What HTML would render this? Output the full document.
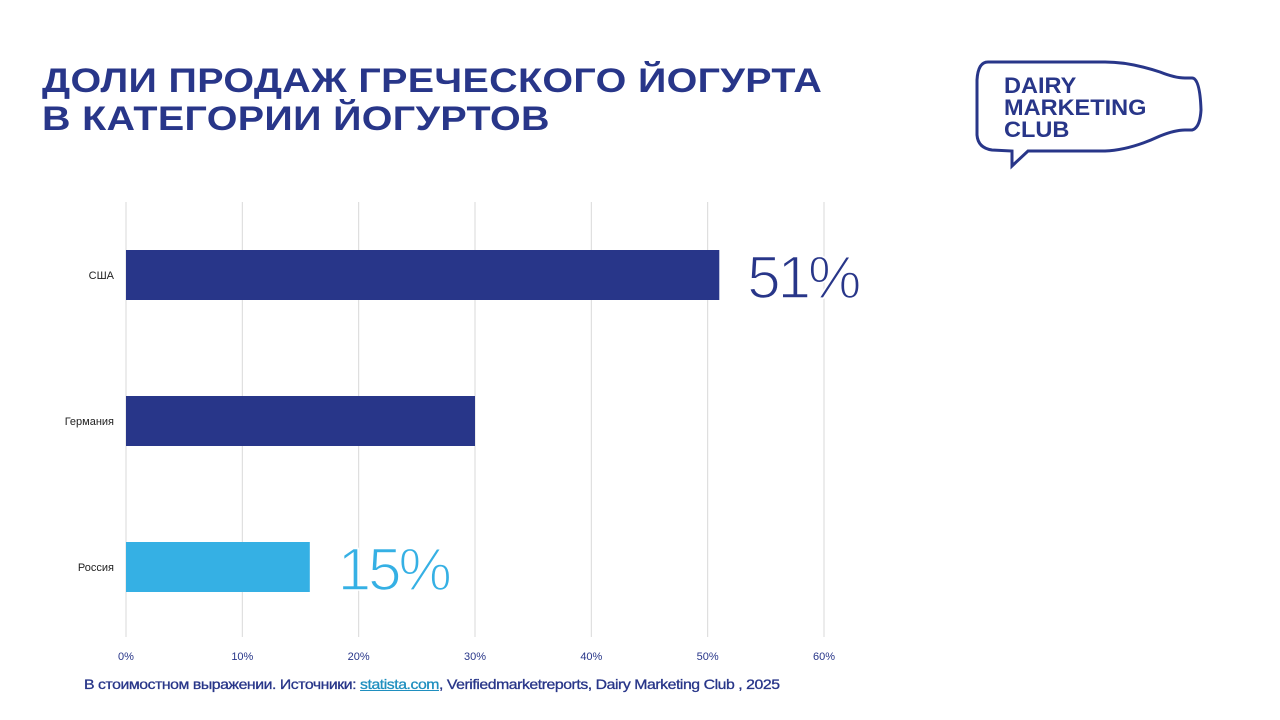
<!DOCTYPE html>
<html><head><meta charset="utf-8">
<style>
body{margin:0;width:1280px;height:720px;background:#fff;overflow:hidden;font-family:"Liberation Sans",sans-serif;position:relative}
.title{position:absolute;left:42px;top:62px;font-size:34px;line-height:38px;font-weight:bold;color:#283689;letter-spacing:0.3px;transform:scaleX(1.16);transform-origin:left top;white-space:nowrap}
.foot{position:absolute;left:84px;top:676px;font-size:14px;color:#283689;letter-spacing:-0.4px;transform:scaleX(1.13);transform-origin:left top;white-space:nowrap;-webkit-text-stroke:0.3px #283689}
.foot a{color:#1f8fbf;text-decoration:underline;-webkit-text-stroke:0.3px #1f8fbf}
</style></head><body>
<div class="title">ДОЛИ ПРОДАЖ ГРЕЧЕСКОГО ЙОГУРТА<br>В КАТЕГОРИИ ЙОГУРТОВ</div>
<svg style="position:absolute;left:970px;top:50px" width="240" height="125" viewBox="0 0 240 125">
<path d="M18 12 Q8 12 7 30 L7 85 Q8 98 22 100 L42 101 L42 116 L58 101 L135 101 Q160 100 190 86 Q205 80 215 80 L222 80 Q230 78 231 60 Q230 28 222 28 L215 28 Q205 28 190 22 Q160 12 135 12 Z" fill="none" stroke="#283689" stroke-width="3"/>
<g font-size="22" font-weight="bold" fill="#283689" font-family="Liberation Sans" transform="translate(34,0) scale(1.07,1)">
<text x="0" y="43">DAIRY</text>
<text x="0" y="65">MARKETING</text>
<text x="0" y="87">CLUB</text>
</g>
</svg>
<svg id="chart" style="position:absolute;left:0;top:0" width="1280" height="720"></svg>
<div class="foot">В стоимостном выражении. Источники: <a>statista.com</a>, Verifiedmarketreports, Dairy Marketing Club , 2025</div>
<script>
const categories=["США","Германия","Россия"];
const values=[51,30,15.8];
const valueLabels=["51%","","15%"];
const ticks=[0,10,20,30,40,50,60];
const tickLabels=["0%","10%","20%","30%","40%","50%","60%"];
const colors=["#283689","#283689","#35b0e4"];
const ns="http://www.w3.org/2000/svg";
const svg=document.getElementById("chart");
const x=v=>126+v*(824-126)/60;
const yc=i=>275+i*146;
function mk(t,a){const e=document.createElementNS(ns,t);for(const k in a)e.setAttribute(k,a[k]);svg.appendChild(e);return e;}
ticks.forEach((t,i)=>{
 const l=mk("line",{x1:x(t),x2:x(t),y1:202,y2:637,stroke:"#d9d9d9","stroke-width":1});
 
 
 const tx=mk("text",{x:x(t),y:660,"text-anchor":"middle","font-size":11,fill:"#283689","font-family":"Liberation Sans"});
 tx.textContent=tickLabels[i];
 
 
});
categories.forEach((c,i)=>{
 const r=mk("rect",{x:x(0),y:yc(i)-25,width:x(values[i])-x(0),height:50,fill:colors[i]});
 
 
 const t=mk("text",{x:114,y:yc(i)+4,"text-anchor":"end","font-size":11,fill:"#222","font-family":"Liberation Sans"});
 t.textContent=c;
 
 
 if(valueLabels[i]){
  const v=mk("text",{x:x(values[i])+28,y:yc(i)+23,"font-size":60,fill:colors[i],stroke:"#fff","stroke-width":1.6,"paint-order":"normal","font-family":"Liberation Sans","letter-spacing":"-3"});
  v.textContent=valueLabels[i];
  
  
 }
});
</script>
</body></html>
